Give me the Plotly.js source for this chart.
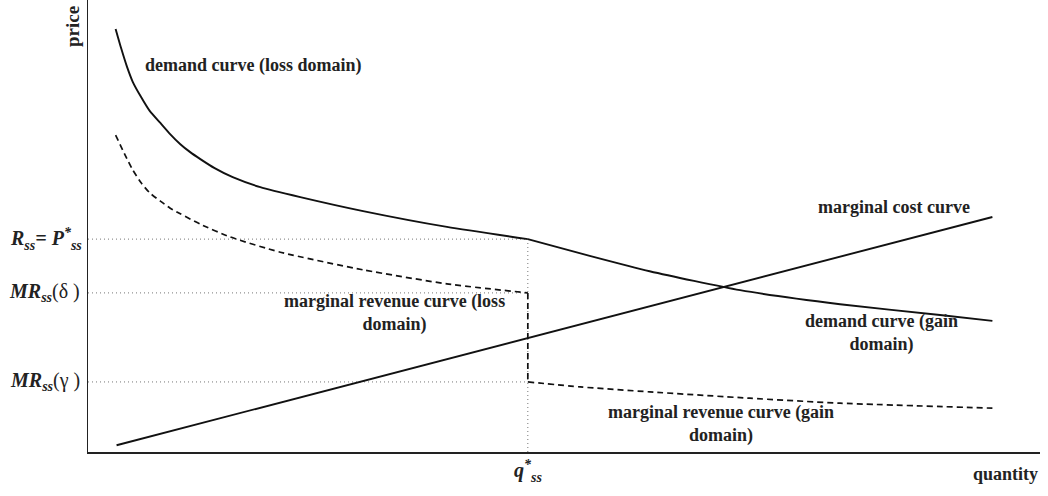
<!DOCTYPE html>
<html>
<head>
<meta charset="utf-8">
<script src="https://cdn.plot.ly/plotly-3.0.1.min.js"></script>
<style>html,body{margin:0;padding:0;background:#fff;}#chart{width:1048px;height:496px;}</style>
</head>
<body>
<div id="chart"></div>
<script>
// Values (quantity and price in arbitrary units 0-10)
const qStar = 4.62;
const priceStar = 4.71;   // R_ss = P*_ss
const mrDelta = 3.52;     // MR_ss(delta)
const mrGamma = 1.55;     // MR_ss(gamma)

const demandLossQ = [0.29, 0.35, 0.41, 0.47, 0.55, 0.65, 0.76, 0.86, 0.97, 1.07, 1.18, 1.33, 1.52, 1.81, 2.23, 2.89, 3.77, 4.62];
const demandLossP = [9.36, 8.92, 8.52, 8.19, 7.88, 7.54, 7.28, 7.04, 6.81, 6.64, 6.48, 6.28, 6.08, 5.86, 5.64, 5.33, 4.98, 4.71];

const demandGainQ = [4.62, 5.27, 5.90, 6.85, 7.90, 8.95, 9.50];
const demandGainP = [4.71, 4.34, 4.00, 3.58, 3.27, 3.03, 2.90];

const mrLossQ = [0.29, 0.39, 0.47, 0.56, 0.65, 0.76, 0.86, 0.97, 1.18, 1.49, 2.02, 2.89, 3.77, 4.62];
const mrLossP = [7.01, 6.57, 6.24, 5.95, 5.73, 5.55, 5.40, 5.27, 5.04, 4.76, 4.42, 4.03, 3.72, 3.52];

const mrGainQ = [4.62, 5.17, 5.90, 6.95, 7.90, 9.50];
const mrGainP = [1.55, 1.44, 1.33, 1.19, 1.08, 0.97];

const mcQ = [0.30, 9.50];
const mcP = [0.15, 5.20];

const FONT = 'Liberation Serif';
const solid = {color: '#111', width: 1.9};
const dashed = {color: '#111', width: 1.7, dash: '6px,4px'};
const dotted = {color: '#777', width: 1, dash: '1px,3px'};
const sp = (l) => Object.assign({shape: 'spline', smoothing: 0.6}, l);

const traces = [
  // dotted guide lines
  {x: [0, qStar], y: [priceStar, priceStar], mode: 'lines', line: dotted},
  {x: [0, qStar], y: [mrDelta, mrDelta], mode: 'lines', line: dotted},
  {x: [0, qStar], y: [mrGamma, mrGamma], mode: 'lines', line: dotted},
  {x: [qStar, qStar], y: [0, priceStar], mode: 'lines', line: dotted},
  // curves
  {x: demandLossQ, y: demandLossP, mode: 'lines', line: sp(solid)},
  {x: demandGainQ, y: demandGainP, mode: 'lines', line: sp(solid)},
  {x: mrLossQ, y: mrLossP, mode: 'lines', line: sp(dashed)},
  {x: [qStar, qStar], y: [mrDelta, mrGamma], mode: 'lines', line: dashed},
  {x: mrGainQ, y: mrGainP, mode: 'lines', line: sp(dashed)},
  {x: mcQ, y: mcP, mode: 'lines', line: solid}
];

const txt = (s) => '<b>' + s + '</b>';
const lab = {family: FONT, size: 18, color: '#222'};
const ylab = {family: FONT, size: 20, color: '#222'};

const annotations = [
  {xref: 'x', yref: 'y', x: 0.58, y: 8.56, text: txt('demand curve (loss domain)'), showarrow: false, xanchor: 'left', yanchor: 'middle', font: lab},
  {xref: 'x', yref: 'y', x: 8.47, y: 5.42, text: txt('marginal cost curve'), showarrow: false, xanchor: 'center', yanchor: 'middle', font: lab},
  {xref: 'x', yref: 'y', x: 3.22, y: 3.07, text: txt('marginal revenue curve (loss<br>domain)'), showarrow: false, xanchor: 'center', yanchor: 'middle', align: 'center', font: lab},
  {xref: 'x', yref: 'y', x: 8.34, y: 2.63, text: txt('demand curve (gain<br>domain)'), showarrow: false, xanchor: 'center', yanchor: 'middle', align: 'center', font: lab},
  {xref: 'x', yref: 'y', x: 6.65, y: 0.62, text: txt('marginal revenue curve (gain<br>domain)'), showarrow: false, xanchor: 'center', yanchor: 'middle', align: 'center', font: lab},
  // axis labels
  {xref: 'paper', yref: 'paper', x: 0, y: 1, xshift: -16, yshift: -27, text: txt('price'), textangle: -90, xanchor: 'center', yanchor: 'middle', showarrow: false, font: {family: FONT, size: 19, color: '#222'}},
  {xref: 'paper', yref: 'paper', x: 1, y: 0, yshift: -22, text: txt('quantity'), xanchor: 'right', yanchor: 'middle', showarrow: false, font: {family: FONT, size: 18, color: '#222'}},
  {xref: 'x', yref: 'paper', x: qStar, y: 0, yshift: -19, text: '<b><i>q<sup>*</sup><sub>ss</sub></i></b>', xanchor: 'center', yanchor: 'middle', showarrow: false, font: {family: FONT, size: 20, color: '#222'}},
  // y reference labels
  {xref: 'paper', yref: 'y', x: 0, y: priceStar, xshift: -4, text: '<b><i>R<sub>ss</sub>= P<sup>*</sup><sub>ss</sub></i></b>', xanchor: 'right', yanchor: 'middle', showarrow: false, font: ylab},
  {xref: 'paper', yref: 'y', x: 0, y: mrDelta, xshift: -6, text: '<b><i>MR<sub>ss</sub></i></b>(δ )', xanchor: 'right', yanchor: 'middle', showarrow: false, font: ylab},
  {xref: 'paper', yref: 'y', x: 0, y: mrGamma, xshift: -6, text: '<b><i>MR<sub>ss</sub></i></b>(γ )', xanchor: 'right', yanchor: 'middle', showarrow: false, font: ylab}
];

const layout = {
  width: 1048, height: 496,
  margin: {l: 88, r: 8, t: 0, b: 44, pad: 0},
  paper_bgcolor: '#fff', plot_bgcolor: '#fff',
  showlegend: false,
  xaxis: {range: [0, 10], showline: true, linecolor: '#222', linewidth: 1.5, showgrid: false, zeroline: false, showticklabels: false, ticks: '', fixedrange: true},
  yaxis: {range: [0, 10], showline: true, linecolor: '#222', linewidth: 1.5, showgrid: false, zeroline: false, showticklabels: false, ticks: '', fixedrange: true},
  annotations: annotations
};

Plotly.newPlot('chart', traces, layout, {displayModeBar: false, staticPlot: true});
</script>
</body>
</html>
